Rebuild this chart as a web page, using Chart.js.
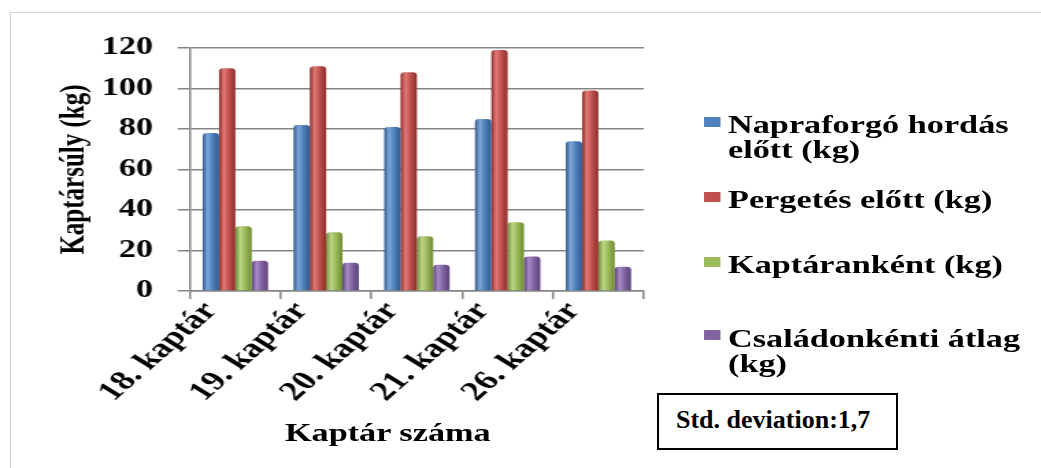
<!DOCTYPE html>
<html>
<head>
<meta charset="utf-8">
<script src="https://cdn.jsdelivr.net/npm/chart.js@4"></script>
<style>
  html, body { margin: 0; padding: 0; background: #fff; }
  body { width: 1041px; height: 468px; position: relative; overflow: hidden; font-family: "Liberation Serif", "Times New Roman", serif; }
  .frame { position: absolute; left: 10px; top: 12px; right: 0; bottom: 0; border-top: 1px solid #d0d0d0; border-left: 1px solid #d0d0d0; }
  /* the original picture is stretched sideways, so the chart is drawn narrow and widened */
  .wrap { position: absolute; left: 0; top: 0; width: 760px; height: 468px; transform: scaleX(1.3697); transform-origin: 0 0; }
  .leg { position: absolute; left: 531.5px; font-weight: bold; font-size: 25px; line-height: 25.6px; white-space: nowrap; color: #000; }
  .sq { position: absolute; left: 513.5px; width: 12px; height: 10px; }
  .xtitle { position: absolute; left: 208px; top: 420px; font-weight: bold; font-size: 25px; line-height: 25px; white-space: nowrap; }
  .std { position: absolute; left: 657px; top: 393px; width: 241px; height: 57px; box-sizing: border-box; border: 2px solid #000; background: #fff; }
  .std span { position: absolute; left: 17px; top: 11.5px; font-weight: bold; font-size: 26px; line-height: 26px; white-space: nowrap; }
</style>
</head>
<body>
<div class="frame"></div>
<div class="wrap">
  <canvas id="chart" width="760" height="468"></canvas>
  <div class="sq" style="top:117px;background:#4F81BD"></div>
  <div class="leg" style="top:111.5px">Napraforgó hordás<br>előtt (kg)</div>
  <div class="sq" style="top:192px;background:#C0504D"></div>
  <div class="leg" style="top:187px">Pergetés előtt (kg)</div>
  <div class="sq" style="top:257px;background:#9BBB59"></div>
  <div class="leg" style="top:251.5px">Kaptáranként (kg)</div>
  <div class="sq" style="top:330px;background:#8064A2"></div>
  <div class="leg" style="top:325.5px">Családonkénti átlag<br>(kg)</div>
  <div class="xtitle">Kaptár száma</div>
</div>
<div class="std"><span>Std. deviation:1,7</span></div>

<script>
const hives = ["18. kaptár", "19. kaptár", "20. kaptár", "21. kaptár", "26. kaptár"];
const beforeSunflower = [78, 82, 81, 85, 74];
const beforeExtraction = [110, 111, 108, 119, 99];
const perHive = [32, 29, 27, 34, 25];
const familyAverage = [15, 14, 13, 17, 12];

const fontFamily = "'Liberation Serif', 'Times New Roman', serif";
const gridGray = "#858585";

// cylinder-ish shading across each bar
function cylinder(base, light, dark) {
  return (ctx) => {
    const el = ctx.element;
    if (!el || el.x == null || !el.width) return base;
    const g = ctx.chart.ctx.createLinearGradient(el.x - el.width / 2, 0, el.x + el.width / 2, 0);
    g.addColorStop(0, dark);
    g.addColorStop(0.3, light);
    g.addColorStop(0.6, base);
    g.addColorStop(1, dark);
    return g;
  };
}

const chart = new Chart(document.getElementById("chart"), {
  type: "bar",
  data: {
    labels: hives,
    datasets: [
      { label: "Napraforgó hordás előtt (kg)", data: beforeSunflower, backgroundColor: cylinder("#4F81BD", "#7FA6D8", "#2F5A8E") },
      { label: "Pergetés előtt (kg)", data: beforeExtraction, backgroundColor: cylinder("#C0504D", "#E07A77", "#8C2E2B") },
      { label: "Kaptáranként (kg)", data: perHive, backgroundColor: cylinder("#9BBB59", "#BCD689", "#6E8A33") },
      { label: "Családonkénti átlag (kg)", data: familyAverage, backgroundColor: cylinder("#8064A2", "#A78CC6", "#5A4078") },
    ],
  },
  options: {
    responsive: false,
    animation: false,
    layout: { padding: { top: 48, right: 290, bottom: 0, left: 0 } },
    datasets: {
      bar: {
        categoryPercentage: 0.72,
        barPercentage: 1,
        borderRadius: { topLeft: 3, topRight: 3 },
        borderSkipped: "bottom",
      },
    },
    plugins: {
      legend: { display: false },
      tooltip: { enabled: false },
    },
    scales: {
      x: {
        afterFit: (s) => { s.height = 177; },
        grid: { drawOnChartArea: false, color: gridGray, lineWidth: 1.5, tickLength: 8, offset: true },
        border: { color: gridGray, width: 1.5 },
        ticks: {
          color: "#000",
          minRotation: 50,
          maxRotation: 50,
          padding: -3,
          labelOffset: -18,
          font: { family: fontFamily, size: 27, weight: "bold" },
        },
      },
      y: {
        min: 0,
        max: 120,
        afterFit: (s) => { s.width = 138.7; },
        grid: { color: gridGray, lineWidth: 1.5, tickLength: 9, tickColor: gridGray },
        border: { color: gridGray, width: 1.5 },
        ticks: {
          stepSize: 20,
          color: "#000",
          padding: 18,
          font: { family: fontFamily, size: 25, weight: "bold" },
        },
        title: {
          display: true,
          text: "Kaptársúly (kg)",
          color: "#000",
          padding: { top: 40, bottom: 0 },
          font: { family: fontFamily, size: 25, weight: "bold", lineHeight: 1.2 },
        },
      },
    },
  },
});
// second pass so the bar gradients know where each bar sits
chart.update("none");
</script>
</body>
</html>
